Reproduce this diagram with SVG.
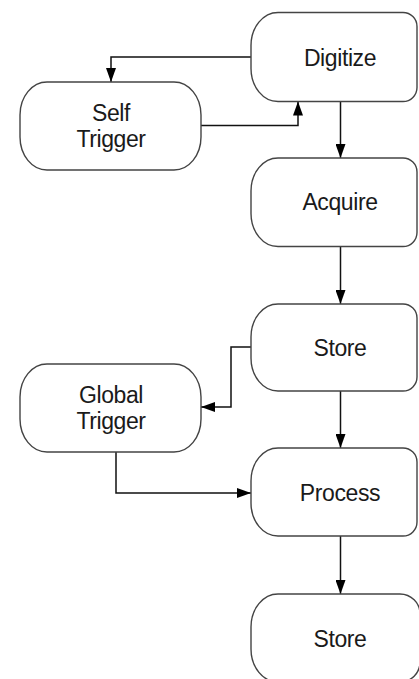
<svg xmlns="http://www.w3.org/2000/svg" width="419" height="679" viewBox="0 0 419 679">
<style>
.n{fill:#fff;stroke:#444;stroke-width:1.4}
.t{font-family:"Liberation Sans",Arial,sans-serif;font-size:23px;letter-spacing:-0.4px;fill:#1a1a1a;text-anchor:middle}
.c{fill:none;stroke:#111;stroke-width:1.5;marker-end:url(#ah)}
</style>
<defs>
<marker id="ah" markerUnits="userSpaceOnUse" markerWidth="14" markerHeight="10" refX="14" refY="5" orient="auto">
<path d="M0,0 L14,5 L0,10 Z" fill="#000"/>
</marker>
</defs>
<rect width="419" height="679" fill="#fff"/>
<g id="connectors">
<path class="c" d="M251,57 H111 V82"/>
<path class="c" d="M201,125.5 H298 V101.5"/>
<path class="c" d="M340.5,101.5 V158"/>
<path class="c" d="M340.5,246.5 V304"/>
<path class="c" d="M251,347 H231 V407 H201"/>
<path class="c" d="M340.5,391 V448"/>
<path class="c" d="M116,452 V493 H251"/>
<path class="c" d="M340.5,536 V594"/>
</g>
<g id="digitize">
<path class="n" d="M278,12.5 H403 A14,14 0 0 1 417,26.5 V87.5 A14,14 0 0 1 403,101.5 H278 A27,33 0 0 1 251,68.5 V45.5 A27,33 0 0 1 278,12.5 Z"/>
<text class="t" x="340" y="66">Digitize</text>
</g>
<g id="self-trigger">
<path class="n" d="M47,82 H174 A27,33 0 0 1 201,115 V137 A27,33 0 0 1 174,170 H47 A27,33 0 0 1 20,137 V115 A27,33 0 0 1 47,82 Z"/>
<text class="t" x="111" y="121">Self</text>
<text class="t" x="111" y="147">Trigger</text>
</g>
<g id="acquire">
<path class="n" d="M278,158 H403 A14,14 0 0 1 417,172 V232.5 A14,14 0 0 1 403,246.5 H278 A27,33 0 0 1 251,213.5 V191 A27,33 0 0 1 278,158 Z"/>
<text class="t" x="340" y="210">Acquire</text>
</g>
<g id="store">
<path class="n" d="M278,304 H403 A14,14 0 0 1 417,318 V377 A14,14 0 0 1 403,391 H278 A27,33 0 0 1 251,358 V337 A27,33 0 0 1 278,304 Z"/>
<text class="t" x="340" y="356">Store</text>
</g>
<g id="global-trigger">
<path class="n" d="M47,364 H174 A27,33 0 0 1 201,397 V419 A27,33 0 0 1 174,452 H47 A27,33 0 0 1 20,419 V397 A27,33 0 0 1 47,364 Z"/>
<text class="t" x="111" y="403">Global</text>
<text class="t" x="111" y="429">Trigger</text>
</g>
<g id="process">
<path class="n" d="M278,448 H403 A14,14 0 0 1 417,462 V522 A14,14 0 0 1 403,536 H278 A27,33 0 0 1 251,503 V481 A27,33 0 0 1 278,448 Z"/>
<text class="t" x="340" y="501">Process</text>
</g>
<g id="store-2">
<path class="n" d="M278,594 H400 A20,20 0 0 1 420,614 V662 A20,20 0 0 1 400,682 H278 A27,33 0 0 1 251,649 V627 A27,33 0 0 1 278,594 Z"/>
<text class="t" x="340" y="647">Store</text>
</g>
</svg>
